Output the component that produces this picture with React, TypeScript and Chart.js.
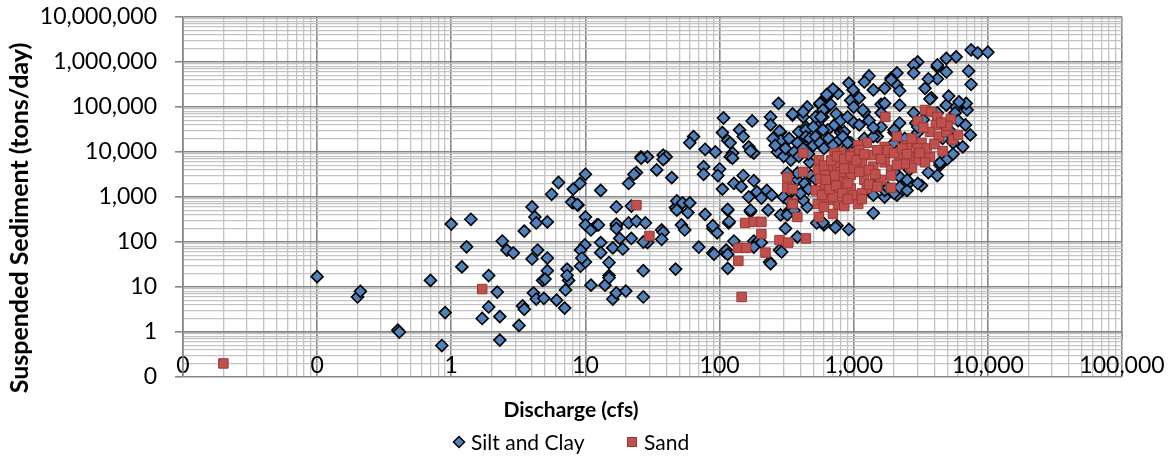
import React, { useEffect, useRef } from "react";
import { Chart, registerables } from "chart.js";

Chart.register(...registerables);

// Daily suspended sediment load versus discharge, by grain size.
// Each pair is [discharge (cfs), suspended sediment (tons/day)].
const siltAndClay: [number, number][] = [
  [0.1, 17], [0.2, 6], [0.21, 8], [0.4, 1.1], [0.41, 1.0], [0.7, 14], [0.85, 0.5], [0.9, 2.7],
  [1.0, 250], [1.4, 320], [1.3, 78], [1.2, 28], [1.9, 18], [1.7, 2.0], [1.9, 3.6], [2.2, 7.7],
  [2.3, 2.2], [2.3, 0.66], [2.4, 105], [2.6, 66], [2.9, 57], [3.2, 1.4], [3.4, 3.8], [3.5, 3.2],
  [3.5, 175], [4.0, 600], [4.2, 360], [4.3, 265], [5.2, 280], [4.4, 66], [4.0, 42], [5.2, 44],
  [5.2, 23], [4.8, 14], [5.0, 15], [4.1, 7.4], [4.3, 5.4], [4.9, 5.6], [6.1, 5.1], [7.0, 3.4],
  [7.1, 8.6], [7.3, 25], [7.5, 14], [7.3, 18], [8.1, 740], [8.8, 660], [9.2, 29], [10, 360],
  [10, 240], [9.9, 86], [9.2, 66], [10, 36], [11, 185], [11, 11], [12.2, 240], [13, 97],
  [13, 58], [14, 11], [15, 35], [15, 18], [15, 16], [16, 5.4], [17, 7.4], [16, 74], [17, 230],
  [17, 600], [18, 120], [19, 70], [20, 8.1], [21, 265], [22, 120], [24, 290], [27, 23], [27, 6],
  [28, 265], [29, 97], [37, 185], [38, 165], [37, 115], [47, 25], [47, 580], [52, 240], [55, 185],
  [58, 450], [70, 77], [78, 410], [89, 57], [89, 200], [96, 160], [109, 60], [115, 510], [117, 265],
  [115, 26], [128, 105], [170, 470], [180, 105], [190, 97], [205, 97], [236, 36], [280, 66],
  [310, 200], [320, 450], [380, 130], [9.4, 44],
  [275, 120000], [107, 57000], [175, 49000], [240, 60000], [240, 40000], [285, 28000], [350, 66000],
  [141, 31000], [105, 27000], [150, 22000], [115, 18000], [120, 16000], [64, 22000], [60, 16000],
  [78, 11500], [93, 10000], [165, 13000], [180, 9500], [125, 9500], [120, 7800], [285, 10500],
  [26, 7800], [29, 7800], [38, 8500], [40, 7800], [38, 6800], [24, 3500], [23, 3200], [34, 4000],
  [44, 2700], [76, 4700], [76, 3200], [100, 4200], [97, 3000], [105, 1500], [150, 3000], [180, 2300],
  [128, 2000], [145, 1700], [190, 1300], [225, 1400], [10, 3200], [9.1, 2000], [8.1, 1500],
  [6.3, 2100], [5.6, 1150], [13, 1400], [21, 2000], [170, 10500], [270, 10000], [125, 7300],
  [26, 7300], [7.9, 770], [8.7, 680], [22, 630], [12.5, 240], [17, 250], [17, 200], [27, 100],
  [48, 815], [48, 510], [53, 740], [60, 740], [91, 54], [112, 66], [115, 53], [118, 285], [205, 950],
  [230, 510], [170, 510], [180, 77], [240, 33], [165, 1000], [245, 1100], [115, 530], [89, 230],
  [290, 60], [285, 400], [320, 400],
  [450, 100000], [560, 115000], [640, 100000], [670, 115000], [990, 125000], [1200, 77000],
  [1600, 115000], [2200, 110000], [2200, 44000], [2000, 27000], [3000, 27000], [2900, 44000],
  [4900, 110000], [5800, 100000], [7000, 86000], [6900, 120000], [7400, 24000], [5500, 16000],
  [4400, 5100], [3200, 1800], [2600, 2100], [2300, 1400], [2100, 1100], [1700, 1000], [1700, 1400],
  [1400, 1100], [1400, 440], [920, 190], [750, 230], [600, 240], [450, 600], [420, 860], [380, 2400],
  [380, 3400], [350, 1400], [340, 6600], [320, 3400], [470, 5900], [420, 16000], [380, 16000],
  [390, 28000], [440, 36000], [520, 40000], [640, 31000], [590, 60000], [520, 60000], [420, 60000],
  [280, 29000], [285, 18000], [770, 18000], [800, 27000], [900, 13000], [950, 16000], [1200, 20000],
  [1500, 22000], [1600, 36000], [2000, 31000], [2400, 20000], [3000, 36000], [2800, 74000],
  [3300, 52000], [4200, 74000], [2600, 4000], [2200, 2800], [1500, 2600], [2000, 3600], [2000, 1200],
  [2200, 1650], [530, 265], [590, 270], [730, 210],
  [7500, 1850000], [8400, 1600000], [10000, 1650000], [7200, 630000], [7500, 320000],
  [5800, 1300000], [4900, 1200000], [4200, 770000], [4900, 600000], [4200, 420000], [3600, 420000],
  [3000, 1000000], [2800, 860000], [2800, 570000], [3400, 260000], [3800, 160000], [5100, 175000],
  [6100, 130000], [5700, 74000], [2100, 570000], [1900, 440000], [2100, 310000], [2200, 230000],
  [1700, 260000], [1400, 240000], [1300, 490000], [1200, 360000], [1700, 120000], [1600, 74000],
  [920, 340000], [990, 240000], [950, 140000], [1100, 160000], [760, 200000], [700, 250000],
  [630, 170000], [560, 120000], [590, 86000], [420, 78000], [440, 31000], [500, 36000], [440, 22000],
  [590, 31000], [570, 60000], [1000, 100000], [1170, 86000], [850, 28000], [830, 22000], [900, 16000],
  [1400, 22000], [2000, 16000], [4400, 5800], [2500, 1400], [1800, 1600], [350, 70000],
  [630, 190000], [1900, 400000], [4200, 860000], [3700, 150000],
  [2500, 2400], [3000, 2000], [3600, 3500], [4200, 3000], [5000, 7000], [5500, 9000], [6500, 13000],
  [6800, 40000], [6000, 50000], [5200, 30000], [4600, 20000],
  [300, 1000], [330, 800], [360, 500], [400, 1200], [430, 2000], [480, 3000], [520, 2500], [460, 1500],
  [250, 20000], [260, 14000], [300, 8000], [310, 12000], [330, 20000], [360, 10000], [390, 8000],
  [420, 12000], [460, 9000], [470, 20000], [500, 14000], [520, 22000], [560, 16000], [600, 12000],
  [650, 20000], [700, 14000], [720, 40000], [740, 70000], [800, 50000], [900, 60000], [1000, 45000],
  [1100, 40000], [1300, 50000], [1400, 35000],
];

const sand: [number, number][] = [
  [0.02, 0.2], [1.7, 9], [24, 660], [30, 136], [146, 6], [155, 265], [180, 280], [205, 280],
  [138, 74], [158, 74], [138, 38], [205, 150], [220, 58], [280, 110], [325, 97], [350, 740],
  [1720, 60000], [3400, 86000], [3800, 77000], [3000, 49000], [4200, 60000], [5300, 54000],
  [4100, 40000], [3700, 28000], [4300, 22000], [4900, 28000], [5500, 19000], [2900, 16000],
  [3200, 16000], [2100, 22000], [2500, 14000], [4600, 10500], [3700, 7800], [3400, 5900],
  [2900, 6600], [2600, 8000], [2200, 7800], [2700, 4400], [1700, 13000], [1700, 9500], [1700, 5900],
  [1900, 4000], [1600, 2400], [1400, 4700], [1350, 8500], [1250, 16000], [1080, 14000], [1000, 9500],
  [800, 10000], [720, 9500], [550, 6600], [540, 4000], [640, 4000], [770, 4700], [900, 5900],
  [1150, 5900], [1300, 4000], [1200, 2400], [950, 3100], [840, 2200], [700, 2200], [610, 1800],
  [520, 1400], [640, 1200], [780, 1400], [950, 1550], [1250, 1550], [650, 860], [770, 680], [850, 630],
  [1080, 700], [540, 700], [550, 360], [700, 420], [420, 9500], [420, 3600], [320, 2700], [320, 1600],
  [350, 1500], [350, 700], [380, 360], [440, 120], [610, 3100], [800, 3600], [1000, 4400], [900, 2000],
  [700, 1000], [560, 2500], [600, 5000], [680, 6500], [750, 8000], [850, 7000], [950, 8000],
  [1050, 6500], [1100, 11000], [1200, 9000], [1500, 11000], [1600, 7000], [1800, 11000], [2000, 9500],
  [2300, 12000], [2400, 5500], [2100, 5200], [1900, 3000], [1450, 3200], [1100, 3600], [850, 4300],
  [720, 3000], [620, 2400], [580, 1100], [660, 1500], [740, 1800], [820, 1200], [1000, 1100],
  [1150, 1200], [1300, 1900], [1500, 1700], [600, 600], [900, 900], [1150, 900], [3000, 12000],
  [3500, 12000], [4000, 15000], [2700, 20000], [3300, 35000], [5000, 38000], [4500, 45000],
  [6000, 24000], [2500, 9000], [3100, 9500], [1900, 1600],
];

// Decades that carry a label on each log axis.
const dischargeDecades = [0.01, 0.1, 1, 10, 100, 1000, 10000, 100000];
const sedimentDecades = [0.1, 1, 10, 100, 1000, 10000, 100000, 1000000, 10000000];

const seriesNames = ["Silt and Clay", "Sand"];
const xTitle = "Discharge (cfs)";
const yTitle = "Suspended Sediment (tons/day)";

const FONT = "Lato, 'Open Sans', sans-serif";
const MAJOR_GRID = "#868686";
const MINOR_GRID = "#c3c3c3";
const SILT_FILL = "#4f81bd";
const SAND_FILL = "#c0504d";
const SAND_EDGE = "#9a3835";

const isDecade = (v: number) => {
  const l = Math.log10(v);
  return Math.abs(l - Math.round(l)) < 1e-6;
};

// 1..9 multiples of every decade, for the log grid.
const logTicks = (decades: number[]) => {
  const out: { value: number }[] = [];
  decades.forEach((d, i) => {
    if (i === decades.length - 1) {
      out.push({ value: d });
      return;
    }
    for (let k = 1; k < 10; k++) out.push({ value: Number((k * d).toPrecision(10)) });
  });
  return out;
};

const excelNumber = (v: number) => Math.round(v).toLocaleString("en-US");

// Axis titles and the legend row under the plot.
const textPlugin = {
  id: "chartText",
  afterDraw(chart: any) {
    const ctx: CanvasRenderingContext2D = chart.ctx;
    ctx.save();
    ctx.fillStyle = "#000";
    ctx.textBaseline = "middle";

    ctx.save();
    ctx.translate(20, 218);
    ctx.rotate(-Math.PI / 2);
    ctx.textAlign = "center";
    ctx.font = `bold 25px ${FONT}`;
    ctx.fillText(yTitle, 0, 0);
    ctx.restore();

    ctx.textAlign = "center";
    ctx.font = `bold 21px ${FONT}`;
    ctx.fillText(xTitle, 571, 410);

    const ly = 442;
    ctx.font = `21px ${FONT}`;
    ctx.textAlign = "left";
    ctx.beginPath();
    ctx.moveTo(459 - 5.5, ly);
    ctx.lineTo(459, ly - 5.5);
    ctx.lineTo(459 + 5.5, ly);
    ctx.lineTo(459, ly + 5.5);
    ctx.closePath();
    ctx.fillStyle = SILT_FILL;
    ctx.fill();
    ctx.lineWidth = 1.5;
    ctx.strokeStyle = "#000";
    ctx.stroke();
    ctx.fillStyle = "#000";
    ctx.fillText(seriesNames[0], 471, ly + 1);

    ctx.fillStyle = SAND_FILL;
    ctx.fillRect(632 - 4.5, ly - 4.5, 9, 9);
    ctx.lineWidth = 1;
    ctx.strokeStyle = SAND_EDGE;
    ctx.strokeRect(632 - 4.5, ly - 4.5, 9, 9);
    ctx.fillStyle = "#000";
    ctx.fillText(seriesNames[1], 644, ly + 1);
    ctx.restore();
  },
};

export default function App() {
  const canvasRef = useRef<HTMLCanvasElement | null>(null);

  useEffect(() => {
    if (!canvasRef.current) return;
    const gridColor = (c: any) => (c.tick && isDecade(c.tick.value) ? MAJOR_GRID : MINOR_GRID);
    const gridWidth = (c: any) => (c.tick && isDecade(c.tick.value) ? 1.6 : 1.3);
    const tickColor = (c: any) => (c.tick && isDecade(c.tick.value) ? MAJOR_GRID : "rgba(0,0,0,0)");

    const chart = new Chart(canvasRef.current, {
      type: "scatter",
      data: {
        datasets: [
          {
            label: seriesNames[0],
            data: siltAndClay.map(([x, y]) => ({ x, y })),
            pointStyle: "rectRot",
            pointRadius: 6,
            pointBackgroundColor: SILT_FILL,
            pointBorderColor: "#000",
            pointBorderWidth: 1.6,
            order: 1,
          },
          {
            label: seriesNames[1],
            data: sand.map(([x, y]) => ({ x, y })),
            pointStyle: "rect",
            pointRadius: 6.7,
            pointBackgroundColor: SAND_FILL,
            pointBorderColor: SAND_EDGE,
            pointBorderWidth: 1,
            order: 0,
          },
        ],
      },
      options: {
        animation: false,
        responsive: true,
        maintainAspectRatio: false,
        layout: { padding: { top: 17, right: 50, bottom: 80, left: 0 } },
        plugins: { legend: { display: false }, tooltip: { enabled: false }, title: { display: false } },
        scales: {
          x: {
            type: "logarithmic",
            position: { y: 1 } as any,
            min: 0.01,
            max: 100000,
            afterBuildTicks: (s: any) => {
              s.ticks = logTicks(dischargeDecades);
            },
            afterFit: (s: any) => {
              s.height = 0;
              s.paddingLeft = 0;
              s.paddingRight = 0;
            },
            ticks: {
              autoSkip: false,
              maxRotation: 0,
              padding: 13,
              color: "#000",
              font: { family: FONT, size: 23 },
              callback: (v: any) => (isDecade(Number(v)) ? excelNumber(Number(v)) : ""),
            },
            grid: { color: gridColor, lineWidth: gridWidth, tickColor, tickLength: 7, drawTicks: true },
            border: { display: true, color: MAJOR_GRID, width: 1.6 },
          },
          y: {
            type: "logarithmic",
            position: "left",
            min: 0.1,
            max: 10000000,
            afterBuildTicks: (s: any) => {
              s.ticks = logTicks(sedimentDecades);
            },
            afterFit: (s: any) => {
              s.width = 183;
              s.paddingTop = 0;
              s.paddingBottom = 0;
            },
            ticks: {
              autoSkip: false,
              padding: 18,
              color: "#000",
              font: { family: FONT, size: 23 },
              callback: (v: any) => (isDecade(Number(v)) ? excelNumber(Number(v)) : ""),
            },
            grid: { color: gridColor, lineWidth: gridWidth, tickColor, tickLength: 8, drawTicks: true },
            border: { display: true, color: MAJOR_GRID, width: 1.6 },
          },
        },
      },
      plugins: [textPlugin],
    });
    return () => chart.destroy();
  }, []);

  return (
    <div style={{ position: "absolute", left: 0, top: 0, width: 1172, height: 457, background: "#fff" }}>
      <canvas ref={canvasRef} />
    </div>
  );
}
